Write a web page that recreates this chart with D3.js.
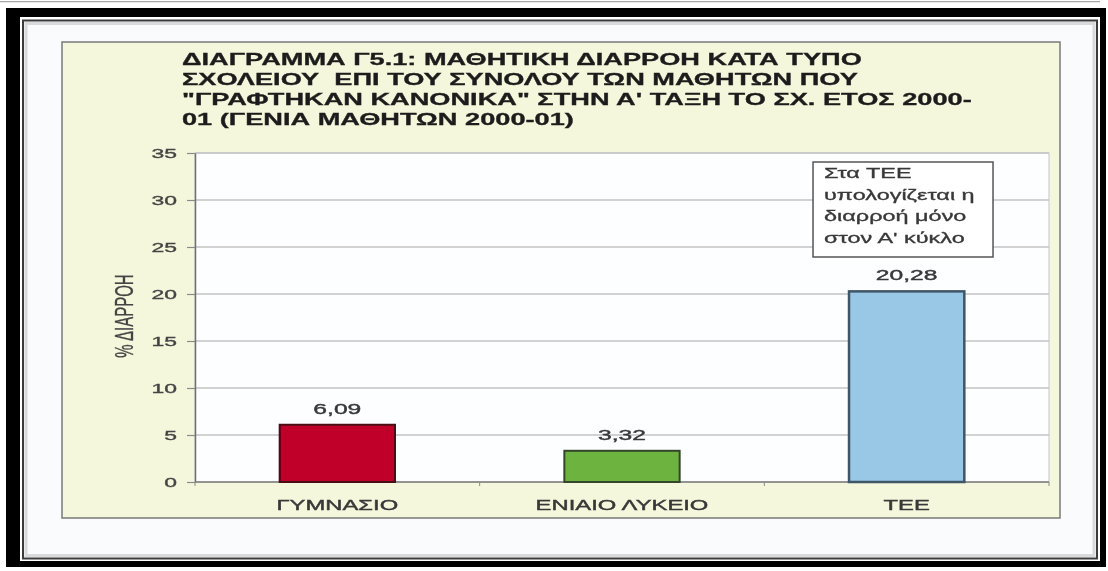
<!DOCTYPE html>
<html>
<head>
<meta charset="utf-8">
<script src="https://cdn.jsdelivr.net/npm/d3@7"></script>
<style>
  body { margin: 0; background: #fff; }
  svg { display: block; }
  text { font-family: "Liberation Sans", Arial, sans-serif; white-space: pre; }
</style>
</head>
<body>
<div class="chart"></div>
<script>

// data
var titleLines = [
	"ΔΙΑΓΡΑΜΜΑ Γ5.1: ΜΑΘΗΤΙΚΗ ΔΙΑΡΡΟΗ ΚΑΤΑ ΤΥΠΟ",
	"ΣΧΟΛΕΙΟΥ  ΕΠΙ ΤΟΥ ΣΥΝΟΛΟΥ ΤΩΝ ΜΑΘΗΤΩΝ ΠΟΥ",
	"\"ΓΡΑΦΤΗΚΑΝ ΚΑΝΟΝΙΚΑ\" ΣΤΗΝ Α' ΤΑΞΗ ΤΟ ΣΧ. ΕΤΟΣ 2000-",
	"01 (ΓΕΝΙΑ ΜΑΘΗΤΩΝ 2000-01)"
];
var categories = ["ΓΥΜΝΑΣΙΟ", "ΕΝΙΑΙΟ ΛΥΚΕΙΟ", "ΤΕΕ"];
var values = [6.09, 3.32, 20.28];
var yTicks = [0, 5, 10, 15, 20, 25, 30, 35];
var yTitle = "% ΔΙΑΡΡΟΗ";
var noteLines = ["Στα ΤΕΕ", "υπολογίζεται η", "διαρροή μόνο", "στον Α' κύκλο"];

// styles
var barFill = ["#c1002b", "#6db33f", "#98c8e6"];
var barStroke = ["#4a0a14", "#34452a", "#3f5566"];
var SX = 1.7;   // the source picture is stretched sideways
var font = '"Liberation Sans", Arial, sans-serif';

var width = 1108, height = 571;

var root = d3.select(".chart")
			.append("svg")
			.attr("width", width)
			.attr("height", height);

root.append("defs")
	.append("filter")
	.attr("id", "soft")
	.attr("x", 0).attr("y", 0).attr("width", 1).attr("height", 1)
	.append("feGaussianBlur")
	.attr("stdDeviation", 0.55)

root.append("rect")
	.attr("width", width).attr("height", height)
	.attr("fill", "#fff")

var svg = root.append("g").attr("filter", "url(#soft)");

// frame around the picture
svg.append("line")
   .attr("x1", 0).attr("x2", 1100)
   .attr("y1", 1.5).attr("y2", 1.5)
   .attr("stroke", "#a8a8a8")
   .attr("stroke-width", 1.5)

svg.append("rect")
   .attr("x", 6).attr("y", 8)
   .attr("width", 1100).attr("height", 559)
   .attr("fill", "#000")

svg.append("rect")
   .attr("x", 20).attr("y", 17)
   .attr("width", 1080).attr("height", 544)
   .attr("fill", "#fff")

svg.append("rect")
   .attr("x", 23).attr("y", 20.5)
   .attr("width", 1074).attr("height", 538)
   .attr("fill", "#f9fbfd")
   .attr("stroke", "#3a3a3a")
   .attr("stroke-width", 2)

svg.append("rect")
   .attr("x", 26).attr("y", 23.5)
   .attr("width", 1068).attr("height", 532)
   .attr("fill", "none")
   .attr("stroke", "#d8dadc")
   .attr("stroke-width", 3)

// chart panel
svg.append("rect")
   .attr("x", 62).attr("y", 42)
   .attr("width", 998).attr("height", 476)
   .attr("fill", "#f5f7dc")
   .attr("stroke", "#7a7a7a")
   .attr("stroke-width", 1.5)

function stretched(parent, x, y, str, anchor) {
	return parent.append("text")
				 .attr("transform", "translate(" + x + "," + y + ") scale(" + SX + ",1)")
				 .attr("text-anchor", anchor || "start")
				 .text(str);
}

// title
var title = svg.append("g")
			   .attr("font-size", "16px")
			   .attr("font-weight", "bold")
			   .attr("fill", "#1e1e1e")
			   .attr("stroke", "#1e1e1e")
			   .attr("stroke-width", 0.3)

titleLines.forEach(function(line, i) {
	title.append("text")
		 .attr("transform", "translate(182," + (65 + i * 20) + ") scale(1.7,1)")
		 .text(line);
});

var plotLeft = 195, plotRight = 1049, plotTop = 153, plotBottom = 482;

var xScale = d3.scaleBand()
			   .domain(categories)
			   .range([plotLeft, plotRight])
			   .paddingInner(0.595)
			   .paddingOuter(0.2975);

var yScale = d3.scaleLinear()
			   .domain([0, 35])
			   .range([plotBottom, plotTop]);

svg.append("rect")
   .attr("x", plotLeft).attr("y", plotTop)
   .attr("width", plotRight - plotLeft).attr("height", plotBottom - plotTop)
   .attr("fill", "#fdfeff")
   .attr("stroke", "#c4c6c8")

// gridlines
svg.append("g")
   .selectAll("line")
   .data(yTicks.filter(function(t) { return t > 0; }))
   .enter()
   .append("line")
   .attr("x1", plotLeft).attr("x2", plotRight)
   .attr("y1", function(d) { return yScale(d); })
   .attr("y2", function(d) { return yScale(d); })
   .attr("stroke", "#c3c3c3")
   .attr("stroke-width", 1.5)

// y axis
var yAxis = d3.axisLeft(yScale)
			  .tickValues(yTicks)
			  .tickSize(8)
			  .tickSizeOuter(0);

var yg = svg.append("g")
			.attr("transform", "translate(" + plotLeft + ",0)")
			.call(yAxis)

yg.select(".domain").attr("stroke", "#707070").attr("stroke-width", 1.5)
yg.selectAll(".tick line").attr("stroke", "#8a8a8a").attr("stroke-width", 1.2)
yg.selectAll(".tick text")
  .attr("x", -18 / SX)
  .attr("transform", "scale(" + SX + ",1)")
  .attr("font-family", font)
  .attr("font-size", "13.5px")
  .attr("fill", "#444")
  .attr("stroke", "#444")
  .attr("stroke-width", 0.35)

svg.append("text")
   .attr("transform", "translate(133,316) scale(" + SX + ",1) rotate(-90)")
   .attr("text-anchor", "middle")
   .attr("font-size", "15px")
   .attr("fill", "#444")
   .attr("stroke", "#444")
   .attr("stroke-width", 0.2)
   .text(yTitle)

// x axis
svg.append("line")
   .attr("x1", plotLeft).attr("x2", plotRight)
   .attr("y1", plotBottom).attr("y2", plotBottom)
   .attr("stroke", "#7a7a7a")
   .attr("stroke-width", 1.5)

svg.append("g")
   .selectAll("line")
   .data(d3.range(categories.length + 1))
   .enter()
   .append("line")
   .attr("x1", function(i) { return plotLeft + i * xScale.step(); })
   .attr("x2", function(i) { return plotLeft + i * xScale.step(); })
   .attr("y1", plotBottom).attr("y2", plotBottom + 4)
   .attr("stroke", "#8a8a8a")

var catLabels = svg.append("g")
				   .attr("font-size", "14px")
				   .attr("fill", "#383838")
				   .attr("stroke", "#383838")
				   .attr("stroke-width", 0.4)

categories.forEach(function(c) {
	stretched(catLabels, xScale(c) + xScale.bandwidth() / 2, 510, c, "middle");
});

// bars
svg.append("g")
   .selectAll("rect")
   .data(values)
   .enter()
   .append("rect")
   .attr("x", function(d, i) { return xScale(categories[i]); })
   .attr("y", function(d) { return yScale(d); })
   .attr("width", xScale.bandwidth())
   .attr("height", function(d) { return yScale(0) - yScale(d); })
   .attr("fill", function(d, i) { return barFill[i]; })
   .attr("stroke", function(d, i) { return barStroke[i]; })
   .attr("stroke-width", function(d, i) { return i == 2 ? 2.5 : 2; })

var greek = d3.formatLocale({ decimal: ",", thousands: ".", grouping: [3], currency: ["", "€"] });
var fmt = greek.format(".2f");

var valLabels = svg.append("g")
				   .attr("font-size", "14.5px")
				   .attr("fill", "#383838")
				   .attr("stroke", "#383838")
				   .attr("stroke-width", 0.4)

values.forEach(function(v, i) {
	stretched(valLabels, xScale(categories[i]) + xScale.bandwidth() / 2, yScale(v) - 11, fmt(v), "middle");
});

// note box above TEE
var boxX = xScale("ΤΕΕ") - 36, boxY = yScale(35) + 9;

svg.append("rect")
   .attr("x", boxX).attr("y", boxY)
   .attr("width", 180).attr("height", 95)
   .attr("fill", "#fff")
   .attr("stroke", "#555")
   .attr("stroke-width", 1.5)

var note = svg.append("g")
			  .attr("font-size", "13.8px")
			  .attr("fill", "#383838")
			  .attr("stroke", "#383838")
			  .attr("stroke-width", 0.3)

noteLines.forEach(function(line, i) {
	stretched(note, boxX + 11, boxY + 16 + i * 21.7, line, "start");
});

</script>
</body>
</html>
